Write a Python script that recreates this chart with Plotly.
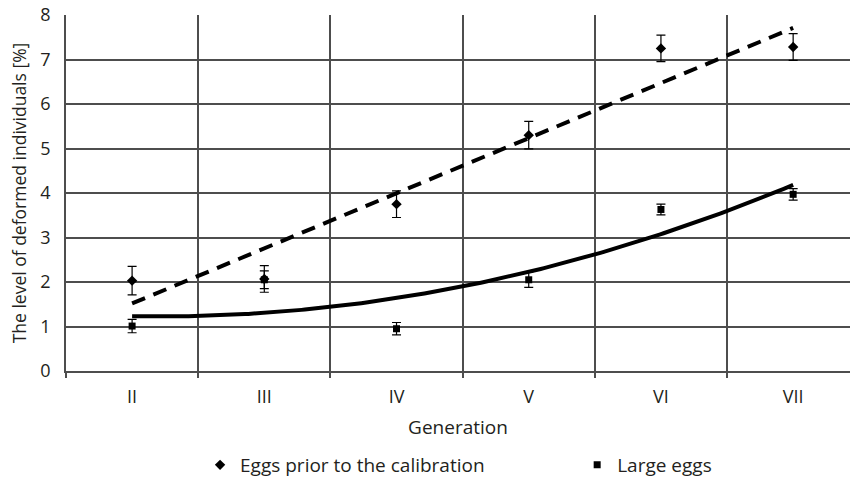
import numpy as np
import plotly.graph_objects as go

generations = ["II", "III", "IV", "V", "VI", "VII"]
gen_pos = [1, 2, 3, 4, 5, 6]

prior_vals = [2.03, 2.07, 3.75, 5.30, 7.25, 7.28]
prior_err = [0.32, 0.30, 0.30, 0.31, 0.30, 0.30]

large_vals = [1.01, 2.05, 0.95, 2.05, 3.63, 3.97]
large_err = [0.15, 0.20, 0.14, 0.17, 0.12, 0.13]

y_ticks = [0, 1, 2, 3, 4, 5, 6, 7, 8]

x = np.array(gen_pos, dtype=float)
xs = np.linspace(x.min(), x.max(), 200)
lin = np.polyval(np.polyfit(x, prior_vals, 1), xs)
quad = np.polyval(np.polyfit(x, large_vals, 2), xs)

FONT = "Open Sans, Noto Sans, sans-serif"
TXT = "#231f20"
GRID = "#4d4d4d"

fig = go.Figure()
fig.add_trace(go.Scatter(x=xs, y=lin, mode="lines", showlegend=False, hoverinfo="skip",
                         line=dict(color="black", width=4, dash="14px,9px")))
fig.add_trace(go.Scatter(x=xs, y=quad, mode="lines", showlegend=False, hoverinfo="skip",
                         line=dict(color="black", width=4)))
fig.add_trace(go.Scatter(x=gen_pos, y=prior_vals, mode="markers",
                         name="Eggs prior to the calibration", legend="legend",
                         marker=dict(symbol="diamond", size=8, color="black"),
                         error_y=dict(type="data", array=prior_err, color="black",
                                      thickness=1.2, width=4.5)))
fig.add_trace(go.Scatter(x=gen_pos, y=large_vals, mode="markers",
                         name="Large eggs", legend="legend2",
                         marker=dict(symbol="square", size=7, color="black"),
                         error_y=dict(type="data", array=large_err, color="black",
                                      thickness=1.2, width=4.5)))

leg_common = dict(orientation="h", y=-0.264, yanchor="middle", xanchor="left",
                  font=dict(size=19, family=FONT, color=TXT), itemwidth=30,
                  bgcolor="rgba(0,0,0,0)", tracegroupgap=0)

fig.update_layout(
    width=850, height=479,
    margin=dict(l=66, r=0, t=15, b=108, autoexpand=False),
    paper_bgcolor="white", plot_bgcolor="white",
    font=dict(family=FONT, size=18, color=TXT),
    xaxis=dict(range=[0.5, 6.43], tickvals=gen_pos, ticktext=generations,
               showgrid=False, zeroline=False, ticks="", showline=True,
               linecolor=GRID, linewidth=1.5, automargin=False,
               ticklabelstandoff=9, ticklabeloverflow="allow",
               minor=dict(tick0=0.5, dtick=1, showgrid=True, gridcolor=GRID,
                          gridwidth=1.5, ticks="outside", ticklen=5,
                          tickcolor=GRID, tickwidth=1.5),
               title=dict(text="Generation", standoff=13, font=dict(size=19)),
               tickfont=dict(size=18), fixedrange=True),
    yaxis=dict(range=[0, 8], tickvals=y_ticks, showgrid=True, gridcolor=GRID,
               gridwidth=1.5, zeroline=False, showline=True, linecolor=GRID,
               linewidth=1.5, ticks="", ticklabelstandoff=10, automargin=False,
               ticklabeloverflow="allow",
               title=dict(text="The level of deformed individuals [%]", standoff=9,
                          font=dict(size=17.5)),
               tickfont=dict(size=18)),
    legend=dict(x=0.171, **leg_common),
    legend2=dict(x=0.652, **leg_common),
)

fig.write_html("out.html", config={"displayModeBar": False},
               post_script="document.body.style.margin='0';document.body.style.padding='0';")
